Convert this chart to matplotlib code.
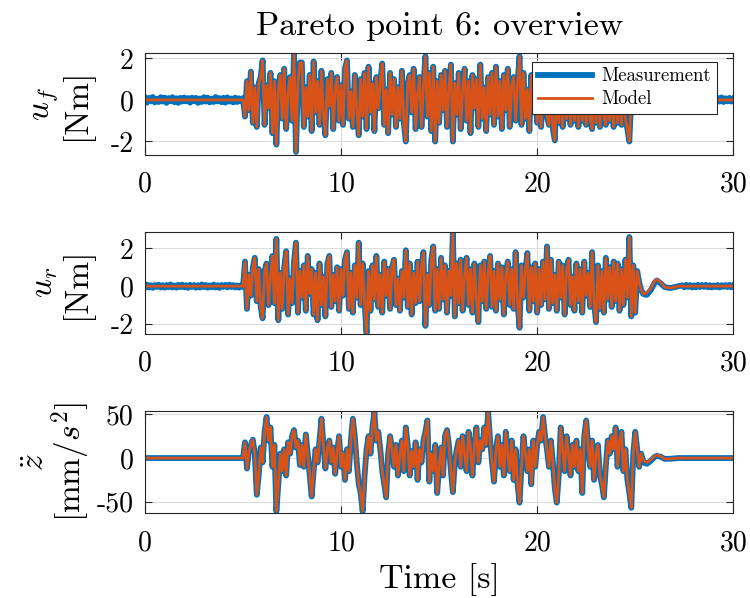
import numpy as np
import matplotlib.pyplot as plt
from matplotlib.lines import Line2D

# colours (MATLAB default order)
c_meas = '#0072BD'
c_model = '#D95319'

# ---------------- data ----------------
dt = 0.1
t_start = 5.0

# u_f  [Nm], active part, t = 5.0 ... 24.7 s
uf_active = [
    0.3, -0.8, 0.9, -0.5, 1.36, -1.1, 0.6, -1.3, 0.8, 1.1,
    1.9, -1.2, 0.7, -0.4, 1.3, -1.6, 0.9, -2.15, 0.5, 1.2,
    -0.9, 1.5, -1.4, 0.3, 1.1, -1.0, 2.2, -2.5, 0.8, 1.8,
    1.8, -1.3, 0.6, -0.8, 1.2, -1.5, 1.85, -0.6, 0.9, -1.2,
    1.4, -0.7, -1.7, 1.0, -0.3, 1.3, -1.4, 0.5, 1.1, -1.0,
    0.7, -1.2, 1.5, 1.9, -0.9, 0.4, -1.3, 1.2, -0.5, -1.7,
    1.0, -0.8, 1.3, -1.4, 1.6, -0.6, 0.8, -1.5, 1.1, -0.4,
    0.9, 1.75, -1.2, 0.5, -1.6, 1.3, -0.7, 1.0, -1.3, 0.6,
    -0.9, 1.4, -1.1, -2.0, 0.8, 1.2, -0.6, 1.5, -1.4, 0.3,
    1.1, -1.3, 0.7, 2.1, -0.8, 1.3, -1.5, 1.6, -2.0, 0.9,
    -1.1, 1.2, -0.5, 1.4, -1.3, 0.6, 1.7, -2.0, 0.8, -0.7,
    1.3, -1.4, 0.5, 1.5, -1.0, 0.9, -1.6, 1.2, -0.4, 1.0,
    -1.3, 1.7, -0.9, 0.6, -1.5, 1.1, -0.7, 1.3, -1.2, 1.6,
    -0.8, 0.9, -1.4, 1.2, -0.5, 1.5, -1.3, 0.7, 1.1, -1.0,
    0.8, 2.1, -1.2, 1.3, -0.9, 0.5, -1.5, 1.2, -0.6, 1.0,
    -1.1, 0.9, -1.3, 0.6, 1.0, -0.8, -1.2, 0.7, -1.4, -1.95,
    0.8, -1.1, 1.0, -1.3, 0.5, -0.9, 1.2, -1.2, 0.6, -1.0,
    0.9, -1.3, 0.7, -1.0, 1.1, -1.2, 0.4, -0.9, -1.4, 0.8,
    -1.1, 0.6, -1.3, 1.0, -0.8, -1.2, 0.7, -1.0, 0.5, -1.3,
    0.8, -1.1, 0.6, -1.2, 0.9, -0.9, -1.4, -2.0,
]
# measurement noise on the quiet parts (0.1 s spacing)
uf_meas_pre = [
    0.09, -0.13, 0.1, -0.07, 0.14, -0.12, 0.06, -0.1, 0.13, -0.08,
    0.11, -0.14, 0.09, -0.06, 0.13, -0.11, 0.08, -0.14, 0.1, -0.08,
    0.12, -0.07, 0.09, -0.13, 0.11, -0.06, 0.1, -0.14, 0.07, -0.1,
    0.13, -0.08, 0.11, -0.12, 0.06, -0.1, 0.14, -0.07, 0.09, -0.11,
    0.1, -0.13, 0.12, -0.08, 0.07, -0.12, 0.11, -0.1, 0.08, -0.07,
    0.09,
]
uf_meas_post = [
    0.07, -0.11, 0.1, -0.08, 0.12, -0.1, 0.08, -0.12, 0.11, -0.07,
    0.1, -0.11, 0.08, -0.1, 0.12, -0.08, 0.07, -0.11, 0.1, -0.12,
    0.08, -0.07, 0.11, -0.1, 0.12, -0.08, 0.1, -0.11, 0.07, -0.1,
    0.11, -0.08, 0.12, -0.1, 0.08, -0.11, 0.1, -0.07, 0.11, -0.12,
    0.08, -0.1, 0.07, -0.11, 0.1, -0.08, 0.12, -0.1, 0.08, -0.07,
    0.1, -0.08, 0.05,
]

# u_r  [Nm], active part, t = 5.0 ... 25.4 s
ur_active = [
    0.4, 1.3, -1.2, 0.6, -0.5, 1.0, 1.5, -0.8, 0.9, -1.1,
    -1.7, 0.8, 1.2, -1.0, 0.5, 1.6, -0.9, 2.5, -1.8, 0.7,
    -1.2, 1.0, 1.85, -1.5, 0.4, -0.9, 1.3, 2.3, -1.4, 0.8,
    -0.6, 1.1, -1.3, 1.6, -0.4, 0.9, -1.5, 0.7, -1.8, 1.2,
    -1.0, 0.5, -1.6, 1.2, 1.6, -1.1, 0.6, -0.8, 1.0, -1.3,
    0.9, -0.5, 1.4, 1.8, -1.2, 0.7, -1.4, 1.1, -0.6, 2.3,
    -1.0, 1.2, -0.9, -2.5, 0.8, -1.3, 1.1, -0.7, 1.6, -1.1,
    0.6, -1.4, 1.3, -0.5, 0.9, -1.2, 1.0, 1.4, -1.0, 0.4,
    -1.3, 0.8, -0.6, 1.9, -1.1, 1.2, -1.5, 0.7, -0.9, 1.3,
    -0.8, 1.0, 1.8, -2.1, 0.6, -1.0, 1.4, 2.1, -1.3, 0.9,
    -1.2, 1.5, -0.7, 1.1, -1.4, 0.8, -0.5, 2.85, -1.6, 1.2,
    -0.9, 1.4, -1.3, 0.6, 1.5, -1.0, 0.9, -1.4, 1.2, -0.6,
    -1.9, 1.1, -0.8, 1.3, -1.2, 0.7, 1.6, -1.1, 0.8, -1.3,
    1.2, -0.7, 1.0, -1.5, 0.6, 1.3, -1.0, 0.9, -1.2, 1.8,
    -0.9, -2.2, 1.1, -0.6, 0.8, 1.75, -1.3, 1.0, -0.8, 1.2,
    -1.4, 0.9, -1.0, 1.3, -0.7, 2.1, -1.2, 1.4, -0.9, 0.6,
    -1.3, 1.3, -0.6, 1.1, -1.5, 0.8, 1.4, -1.0, 0.5, -1.3,
    1.2, -0.8, 0.9, -1.4, 1.3, -0.5, 0.7, -1.1, 1.8, -0.9,
    -1.9, 1.1, -1.2, 0.8, -1.4, 1.5, -0.7, 1.0, -1.1, 1.3,
    -0.8, 1.2, -1.3, 0.9, -1.0, 1.4, -0.6, 2.6, -1.6, 1.1,
    -1.4, 0.8, 0.2, -0.2, -0.4,
]
ur_decay_t = [25.5, 25.6, 25.8, 26.0, 26.1, 26.3, 26.5, 26.8, 27.2, 30.0]
ur_model_decay = [-0.4, -0.35, -0.1, 0.3, 0.35, 0.2, -0.05, -0.1, 0.0, 0.0]
ur_meas_decay = [-0.45, -0.45, -0.2, 0.2, 0.3, 0.15, -0.05, -0.1, 0.0, 0.0]
ur_meas_pre = [
    -0.06, 0.08, -0.07, 0.05, -0.09, 0.06, -0.04, 0.08, -0.07, 0.05,
    -0.08, 0.06, -0.05, 0.09, -0.07, 0.04, -0.08, 0.07, -0.05, 0.08,
    -0.06, 0.05, -0.09, 0.07, -0.04, 0.06, -0.08, 0.05, -0.07, 0.09,
    -0.05, 0.06, -0.08, 0.04, -0.06, 0.08, -0.07, 0.05, -0.09, 0.06,
    -0.04, 0.07, -0.06, 0.08, -0.05, 0.06, -0.07, 0.04, -0.08, 0.05,
    -0.04,
]
ur_meas_post = [
    0.05, -0.06, 0.07, -0.04, 0.06, -0.07, 0.04, -0.06, 0.07, -0.05,
    0.06, -0.04, 0.07, -0.06, 0.05, -0.07, 0.04, -0.05, 0.06, -0.07,
    0.05, -0.04, 0.06, -0.05, 0.07, -0.06, 0.04,
]

# z acceleration [mm/s^2], active part, t = 5.0 ... 25.4 s
zdd_active = [
    10, 18, -12, 8, 15, 21, 5, -42, -20, 12,
    -5, 30, 47, 20, 35, -10, 15, -61, -30, 5,
    -15, 10, -20, 18, 5, 25, 32, 12, 20, -8,
    15, -10, 27, 5, -20, -44, -15, 10, -5, 20,
    45, 15, -12, 10, 20, -5, 12, -18, 8, 25,
    -10, 5, -25, 10, -15, 20, 45, 25, -5, -30,
    -40, -61, -20, 10, 25, 5, 35, 53, 20, 30,
    10, -15, -30, -45, 5, 25, 10, -10, 15, -20,
    5, 20, -15, 35, 15, -20, 8, -10, 18, -25,
    10, -5, 20, 30, 43, -27, 5, -15, 15, -40,
    -10, 12, -20, 25, 32, 15, -15, -39, -5, 10,
    20, -10, 25, 5, -15, 30, 10, -20, 15, 35,
    -5, 20, 10, 35, 15, 53, 20, -5, -27, 10,
    25, -10, 15, -20, 30, 5, -15, 20, -25, 10,
    -30, -51, -10, 25, 5, -15, 10, -30, 20, -10,
    15, 30, 20, 47, 25, 10, -10, 20, -5, -35,
    -51, -20, 35, 10, -15, 25, 5, -20, 15, -10,
    20, -15, 10, -40, 25, 43, 15, -10, 20, -25,
    5, 15, -20, -30, -45, -10, 20, 5, 25, 10,
    35, -10, 20, 30, -15, 10, -25, -40, -57, 5,
    30, 10, -10, 5, -3,
]
zdd_decay_t = [25.5, 25.6, 25.8, 26.0, 26.1, 26.3, 26.5, 26.8, 27.2, 30.0]
zdd_model_decay = [-4, -5, -2, 2.5, 3.4, 2, -1, -0.8, 0, 0]
zdd_meas_decay = [-6, -6.5, -3, 1.5, 2.5, 1.5, -1, -0.8, 0, 0]

# ---------------- build the time series ----------------
def active_time(vals):
    return t_start + dt * np.arange(len(vals))

t_pre = dt * np.arange(len(uf_meas_pre))          # 0 ... 5 s

# u_f
t_uf = active_time(uf_active)
uf_t_post = np.linspace(t_uf[-1] + dt, 30.0, len(uf_meas_post))
uf_meas_t = np.concatenate([t_pre, t_uf[1:], uf_t_post])
uf_meas = np.concatenate([uf_meas_pre, uf_active[1:], uf_meas_post])
uf_model_t = np.concatenate([[0.0, 5.0], t_uf[1:], [t_uf[-1] + dt, 30.0]])
uf_model = np.concatenate([[0.0, 0.0], uf_active[1:], [0.0, 0.0]])

# u_r
t_ur = active_time(ur_active)
ur_t_post = np.linspace(27.4, 30.0, len(ur_meas_post))
ur_meas_t = np.concatenate([t_pre, t_ur[1:], ur_decay_t[:-1], ur_t_post])
ur_meas = np.concatenate([ur_meas_pre, ur_active[1:], ur_meas_decay[:-1], ur_meas_post])
ur_model_t = np.concatenate([[0.0, 5.0], t_ur[1:], ur_decay_t])
ur_model = np.concatenate([[0.0, 0.0], ur_active[1:], ur_model_decay])

# z
t_z = active_time(zdd_active)
z_meas_t = np.concatenate([[0.0, 5.0], t_z[1:], zdd_decay_t])
z_meas = np.concatenate([[0.0, 0.0], zdd_active[1:], zdd_meas_decay])
z_model_t = np.concatenate([[0.0, 5.0], t_z[1:], zdd_decay_t])
z_model = np.concatenate([[0.0, 0.0], zdd_active[1:], zdd_model_decay])

# ---------------- figure ----------------
plt.rcParams['font.family'] = ['cmr10', 'DejaVu Serif']
plt.rcParams['mathtext.fontset'] = 'cm'
plt.rcParams['axes.unicode_minus'] = False

fig = plt.figure(figsize=(7.5, 5.98), dpi=100)

left, width, height = 0.1933, 0.7844, 0.171
bottoms = [0.7408, 0.4415, 0.1416]
ylims = [(-2.65, 2.27), (-2.53, 2.88), (-63.3, 53.8)]
yticks = [[-2, 0, 2], [-2, 0, 2], [-50, 0, 50]]
ylabels = ['$u_f$\n[Nm]', '$u_r$\n[Nm]', '$\\ddot{z}$\n$[\\mathrm{mm}/s^2]$']
series = [(uf_meas_t, uf_meas, uf_model_t, uf_model),
          (ur_meas_t, ur_meas, ur_model_t, ur_model),
          (z_meas_t, z_meas, z_model_t, z_model)]
xticks = [0, 10, 20, 30]
lw_meas, lw_model = 4.2, 2.0

axes = []
for i in range(3):
    ax = fig.add_axes([left, bottoms[i], width, height])
    tm, ym, tmod, ymod = series[i]
    ax.plot(tm, ym, color=c_meas, lw=lw_meas)
    ax.plot(tmod, ymod, color=c_model, lw=lw_model)
    ax.set_xlim(0, 30)
    ax.set_ylim(*ylims[i])
    ax.set_xticks(xticks)
    ax.set_xticklabels([str(v) for v in xticks])
    ax.set_yticks(yticks[i])
    ax.set_yticklabels([str(v) for v in yticks[i]])
    ax.grid(True, color='#dcdcdc', linewidth=0.8)
    ax.set_axisbelow(True)
    ax.tick_params(direction='in', top=True, right=True, length=5, width=0.8,
                   color='#262626', labelsize=20)
    ax.tick_params(axis='x', pad=12)
    ax.tick_params(axis='y', pad=8)
    for s in ax.spines.values():
        s.set_color('#262626')
        s.set_linewidth(0.8)
    ax.set_ylabel(ylabels[i], fontsize=24, linespacing=1.0)
    ax.yaxis.set_label_coords(-0.088, 0.5)
    axes.append(ax)

axes[0].set_title('Pareto point 6: overview', fontsize=24.5, pad=13)
axes[2].set_xlabel('Time [s]', fontsize=24.5, labelpad=5)

handles = [Line2D([], [], color=c_meas, lw=lw_meas), Line2D([], [], color=c_model, lw=lw_model)]
leg = axes[0].legend(handles, ['Measurement', 'Model'], loc='upper right',
                     bbox_to_anchor=(0.972, 0.91), borderaxespad=0, fontsize=13.5,
                     fancybox=False, framealpha=1, edgecolor='#262626',
                     handlelength=2.9, handletextpad=0.5, borderpad=0.3,
                     labelspacing=0.25)
leg.get_frame().set_linewidth(0.8)

fig.savefig('out.png', dpi=100)
